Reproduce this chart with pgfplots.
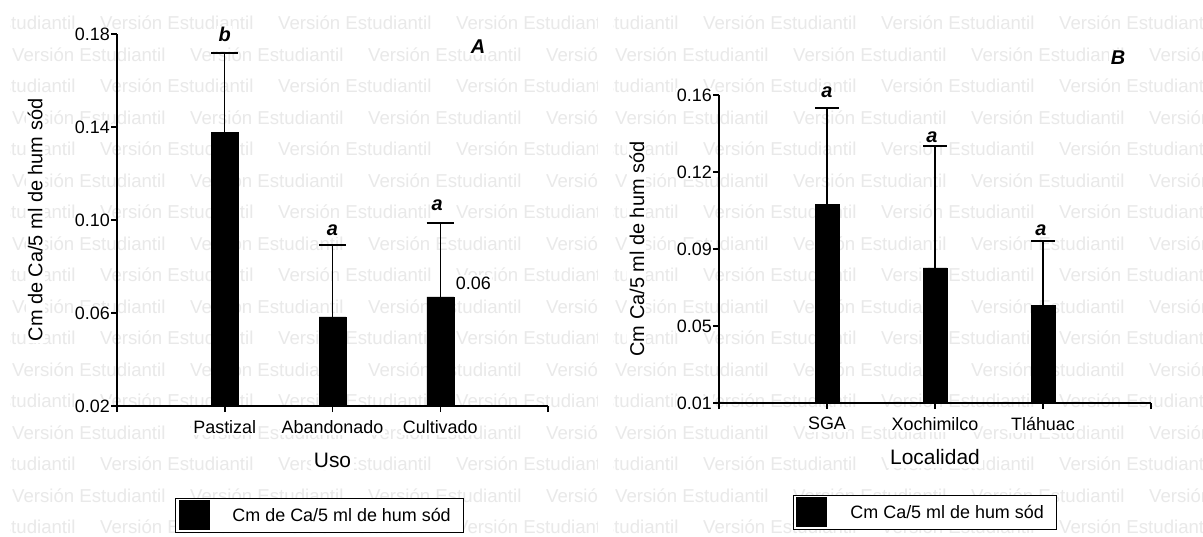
\documentclass[border=0pt]{standalone}
\usepackage{fontspec}
\setmainfont{Liberation Sans}
\usepackage{pgfplots}
\pgfplotsset{compat=1.18}
\usepackage{pgfplotstable}

\definecolor{wm}{gray}{0.915}
\newcommand\fs[1]{\fontsize{#1}{#1}\selectfont}

% mean and upper error per category
\pgfplotstableread{
x y err
0 0.1378 0.0340
1 0.0583 0.0309
2 0.0669 0.0318
}\usodata
\pgfplotstableread{
x y err
0 0.1069 0.0468
1 0.0758 0.0594
2 0.0577 0.0312
}\locdata

\pgfplotsset{
  panel/.style={
    scale only axis,
    axis x line*=bottom, axis y line*=left,
    axis line style={line width=1.5bp, black},
    tick align=outside,
    major tick length=6bp,
    every tick/.style={black, line width=1.5bp},
    xmin=-1, xmax=3,
    xtick={-1,0,1,2,3},
    x tick label style={font=\fs{18}, yshift=-6bp, fill=white, inner sep=2bp},
    y tick label style={font=\fs{18}, inner sep=1bp, fill=white},
    scaled y ticks=false,
    xlabel style={font=\fs{21}, anchor=center, fill=white, inner sep=3bp},
    ylabel style={font=\fs{20}, anchor=center, fill=white, inner sep=2bp},
    clip mode=individual,
    legend style={draw=black, fill=white, line width=1bp, font=\fs{18}},
    legend cell align=left,
  },
  blackbar/.style={ybar, bar width=#1, fill=black, draw=black,
    legend image code/.code={%
      \fill[black] (0bp,-14.5bp) rectangle (30bp,14.5bp);
      \path (51bp,0bp);},
  },
  caps/.style={error bars/.cd, y dir=plus, y explicit, error mark=-,
    error bar style={line width=1.3bp, black},
    error mark options={rotate=90, line width=1.5bp, black, mark size=#1}},
}
\tikzset{lbl/.style={font=\fs{20}\bfseries\itshape, anchor=base, fill=white, inner sep=1.5bp}}

\newcommand\watermark[4]{% clip x0, clip x1, first x on even rows, first x on odd rows
  \begin{scope}
    \clip (#1bp,0bp) rectangle (#2bp,537bp);
    \foreach \k in {0,...,16}{
      \pgfmathsetmacro\yy{537-29.7-31.5*\k}
      \pgfmathsetmacro\xs{isodd(\k) ? #4 : #3}
      \foreach \n in {0,...,4}{
        \node[anchor=base west, inner sep=0pt, text=wm, font=\fs{18.7}]
          at ({(\xs+178*\n)*1bp},{\yy*1bp}) {Versión Estudiantil};
      }
    }
  \end{scope}
}

\begin{document}
\begin{tikzpicture}
\useasboundingbox (0,0) rectangle (1203bp,537bp);
\fill[white] (0,0) rectangle (1203bp,537bp);
\watermark{10}{597}{-78}{12}
\watermark{613}{1203}{525}{615}

% Panel A: land use
\begin{axis}[panel,
  at={(117bp,131bp)}, anchor=south west,
  width=431bp, height=372bp,
  ymin=0.02, ymax=0.18,
  ytick={0.02,0.06,0.10,0.14,0.18},
  yticklabels={0.02,0.06,0.10,0.14,0.18},
  xticklabels={,Pastizal,Abandonado,Cultivado,},
  xlabel={Uso},
  ylabel={Cm de Ca/5 ml de hum sód},
  xlabel style={at={(axis description cs:0.5,-0.145)}},
  ylabel style={at={(axis description cs:-0.190,0.5)}},
  legend style={at={(axis description cs:0.1346,-0.2473)}, anchor=north west},
]
\addplot[blackbar=27bp, caps=13.5bp]
  table[x=x, y=y, y error=err] {\usodata};
\addlegendentry{Cm de Ca/5 ml de hum sód\rule{8bp}{0pt}}
\node[lbl] at (axis cs:0,0.1766) {b};
\node[lbl] at (axis cs:1,0.0935) {a};
\node[lbl, xshift=-3bp] at (axis cs:2,0.1043) {a};
\node[font=\fs{18}, anchor=west, xshift=14bp, fill=white, inner sep=1.5bp] at (axis cs:2,0.0729) {0.06};
\end{axis}

% Panel B: locality
\begin{axis}[panel,
  at={(719bp,134bp)}, anchor=south west,
  width=432bp, height=308bp,
  ymin=0.01, ymax=0.16,
  ytick={0.01,0.0475,0.085,0.1225,0.16},
  yticklabels={0.01,0.05,0.09,0.12,0.16},
  xticklabels={,SGA,Xochimilco,Tláhuac,},
  xlabel={Localidad},
  ylabel={Cm Ca/5 ml de hum sód},
  xlabel style={at={(axis description cs:0.5,-0.175)}},
  ylabel style={at={(axis description cs:-0.190,0.5)}},
  legend style={at={(axis description cs:0.1713,-0.2987)}, anchor=north west},
]
\addplot[blackbar=24bp, caps=12bp]
  table[x=x, y=y, y error=err] {\locdata};
\addlegendentry{Cm Ca/5 ml de hum sód\rule{8bp}{0pt}}
\node[lbl] at (axis cs:0,0.1586) {a};
\node[lbl, xshift=-3bp] at (axis cs:1,0.1371) {a};
\node[lbl, xshift=-2bp] at (axis cs:2,0.0918) {a};
\end{axis}

\node[font=\fs{20}\bfseries\itshape, fill=white, inner sep=1.5bp] at (478bp,490bp) {A};
\node[font=\fs{20}\bfseries\itshape, fill=white, inner sep=1.5bp] at (1118bp,479bp) {B};
\end{tikzpicture}
\end{document}
